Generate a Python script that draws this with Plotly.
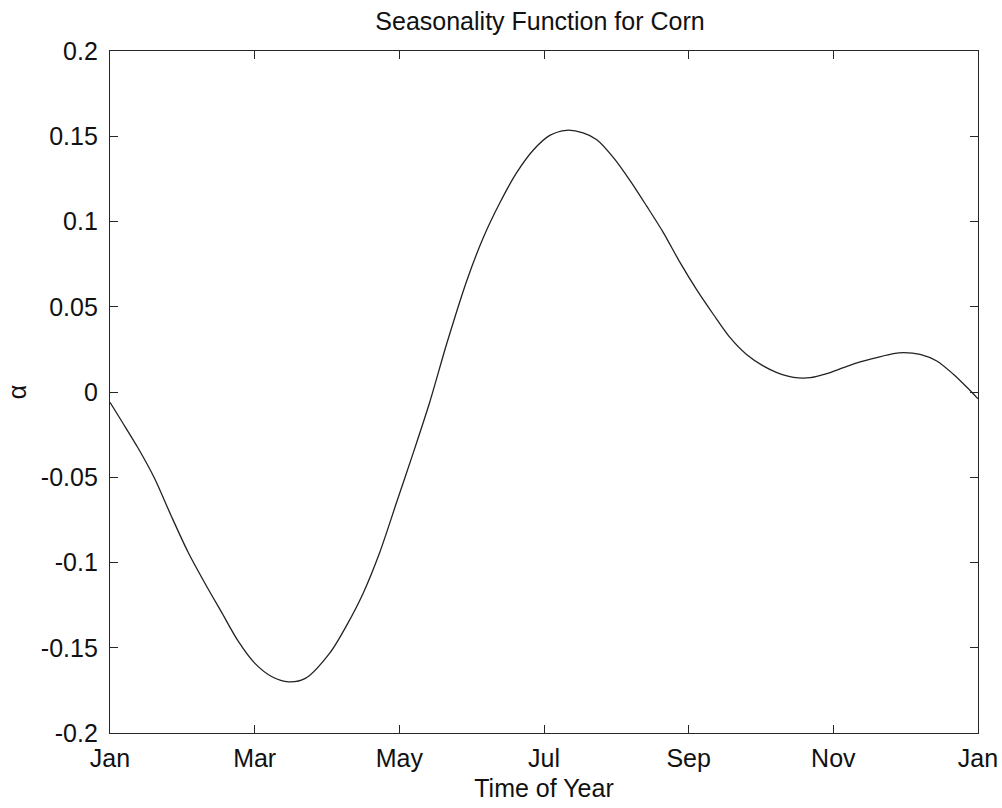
import plotly.graph_objects as go

# Month position (0 = start of Jan, 12 = end of Dec) and seasonality value
month = [0.00, 0.16, 0.39, 0.62, 0.85, 1.08, 1.31, 1.54, 1.77, 2.00, 2.24, 2.47, 2.70,
         3.04, 3.27, 3.50, 3.73, 3.96, 4.19, 4.42, 4.66, 4.93, 5.16, 5.39, 5.62, 5.85,
         6.08, 6.31, 6.54, 6.73, 6.96, 7.19, 7.42, 7.65, 7.88, 8.11, 8.34, 8.57, 8.80,
         9.03, 9.22, 9.45, 9.68, 9.91, 10.14, 10.37, 10.60, 10.83, 10.97, 11.20, 11.43,
         11.66, 11.85, 12.00]
alpha = [-0.006, -0.017, -0.033, -0.051, -0.073, -0.094, -0.112, -0.129, -0.146, -0.159,
         -0.167, -0.170, -0.168, -0.153, -0.137, -0.118, -0.094, -0.065, -0.036, -0.006,
         0.029, 0.065, 0.0905, 0.111, 0.1285, 0.1418, 0.1505, 0.1535, 0.152, 0.148,
         0.1375, 0.124, 0.109, 0.0935, 0.076, 0.060, 0.0456, 0.032, 0.022, 0.0153,
         0.0114, 0.0086, 0.0084, 0.0108, 0.0143, 0.0176, 0.0202, 0.0225, 0.0231, 0.0221,
         0.0182, 0.0104, 0.0026, -0.004]

x_tickvals = [0, 2, 4, 6, 8, 10, 12]
x_ticktext = ["Jan", "Mar", "May", "Jul", "Sep", "Nov", "Jan"]
y_tickvals = [0.2, 0.15, 0.1, 0.05, 0, -0.05, -0.1, -0.15, -0.2]
y_ticktext = ["0.2", "0.15", "0.1", "0.05", "0", "-0.05", "-0.1", "-0.15", "-0.2"]

FONT = "Liberation Sans, Arial, sans-serif"
AX = "#262626"
TXT = "#111111"
FS = 25

W, H = 1002, 808

fig = go.Figure()
fig.add_trace(go.Scatter(x=month, y=alpha, mode="lines",
                         line=dict(color="#222222", width=1.3, shape="spline", smoothing=0.8),
                         showlegend=False, hoverinfo="skip"))

axis_common = dict(showline=True, linecolor=AX, linewidth=1.3, mirror="allticks",
                   ticks="inside", ticklen=8, tickwidth=1.3, tickcolor=AX,
                   showgrid=False, zeroline=False,
                   tickfont=dict(family=FONT, size=FS, color=TXT))

fig.update_layout(
    width=W, height=H,
    margin=dict(l=110, r=24, t=51, b=75, autoexpand=False),
    paper_bgcolor="white", plot_bgcolor="white",
    title=dict(text="Seasonality Function for Corn", x=540 / W, xanchor="center",
               y=1 - 21 / H, yanchor="middle",
               font=dict(family=FONT, size=FS, color=TXT)),
    xaxis=dict(range=[0, 12], tickvals=x_tickvals, ticktext=x_ticktext,
               ticklabelstandoff=3,
               title=dict(text="Time of Year", standoff=8,
                          font=dict(family=FONT, size=FS, color=TXT)),
               **axis_common),
    yaxis=dict(range=[-0.2, 0.2], tickvals=y_tickvals, ticktext=y_ticktext,
               ticklabelstandoff=6,
               title=dict(text="α", standoff=7,
                          font=dict(family=FONT, size=FS, color=TXT)),
               **axis_common),
)

# remove the default 8px page margin so the figure fills the 1002x808 window
fig.write_html("out.html", config={"displayModeBar": False},
               post_script="document.body.style.margin='0';document.body.style.overflow='hidden';")
